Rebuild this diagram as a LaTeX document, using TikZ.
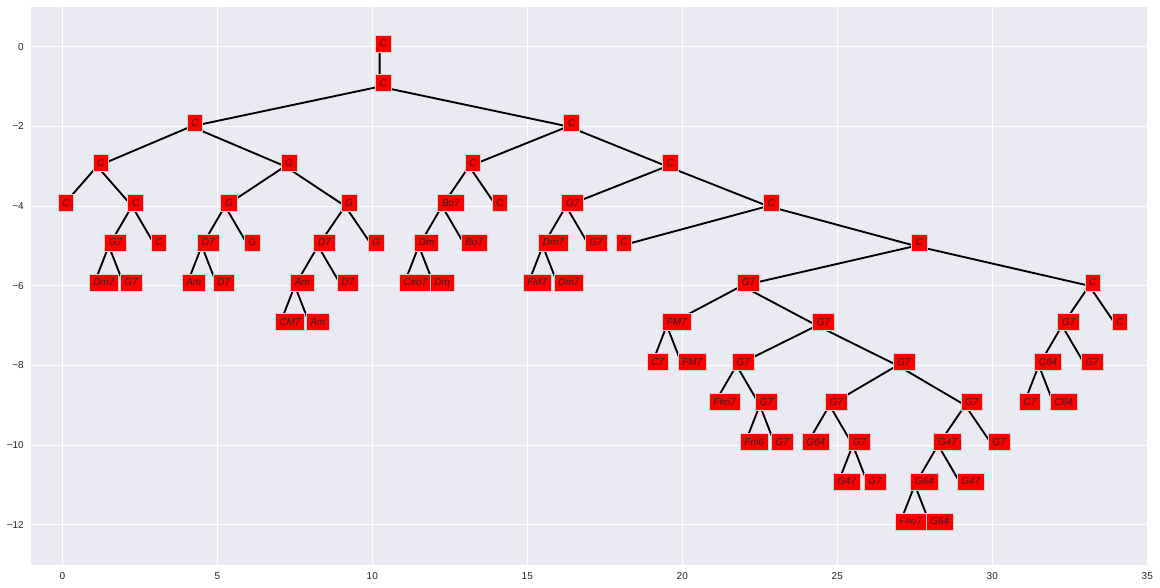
\documentclass[tikz,border=0pt]{standalone}
\usepackage{fontspec}
\setmainfont{Liberation Sans}
\definecolor{panel}{HTML}{EAEAF2}
\definecolor{ink}{HTML}{262626}
\pgfdeclarelayer{background}
\pgfsetlayers{background,main}

\begin{document}
\begin{tikzpicture}[x=23.25pt, y=29.87pt, font=\fontsize{7.5}{9}\selectfont, text=ink,
  chord/.style={anchor=text, fill=red, draw=black!18, line width=0.5pt, inner xsep=3.2pt, inner ysep=0pt,
    minimum height=12.75pt, text height=5pt, text depth=0pt, font=\fontsize{7.5}{9}\selectfont\itshape},
  tick/.style={inner sep=0pt, text height=5.3pt, text depth=0pt},
  edge/.style={line width=1.4pt, draw=black},
  gridline/.style={draw=white, line width=0.8pt}]
  \useasboundingbox (-2.0097,1.175) rectangle (35.41,-13.588);
  % inner chords
  \node[chord] (root) at (10.2358,0) {C};
  \node[chord] (top) at (10.2358,-1) {C};
  \node[chord] (cL) at (4.1563,-2) {C};
  \node[chord] (cR) at (16.3154,-2) {C};
  \node[chord] (c3a) at (1.125,-3) {C};
  \node[chord] (g3) at (7.1875,-3) {G};
  \node[chord] (c3b) at (13.125,-3) {C};
  \node[chord] (c3c) at (19.5059,-3) {C};
  \node[chord] (c4a) at (2.25,-4) {C};
  \node[chord] (g4a) at (5.25,-4) {G};
  \node[chord] (g4b) at (9.125,-4) {G};
  \node[chord] (bo4) at (12.25,-4) {Bo7};
  \node[chord] (g74) at (16.25,-4) {G7};
  \node[chord] (c4b) at (22.7617,-4) {C};
  \node[chord] (g75) at (1.5,-5) {G7};
  \node[chord] (d75a) at (4.5,-5) {D7};
  \node[chord] (d75b) at (8.25,-5) {D7};
  \node[chord] (dm5) at (11.5,-5) {Dm};
  \node[chord] (dm75) at (15.5,-5) {Dm7};
  \node[chord] (c5) at (27.5234,-5) {C};
  \node[chord] (am6) at (7.5,-6) {Am};
  \node[chord] (g76) at (21.9219,-6) {G7};
  \node[chord] (c6) at (33.125,-6) {C};
  \node[chord] (fm77) at (19.5,-7) {FM7};
  \node[chord] (g77a) at (24.3438,-7) {G7};
  \node[chord] (g77b) at (32.25,-7) {G7};
  \node[chord] (g78a) at (21.75,-8) {G7};
  \node[chord] (g78b) at (26.9375,-8) {G7};
  \node[chord] (c648) at (31.5,-8) {C64};
  \node[chord] (g79a) at (22.5,-9) {G7};
  \node[chord] (g79b) at (24.75,-9) {G7};
  \node[chord] (g79c) at (29.125,-9) {G7};
  \node[chord] (g710) at (25.5,-10) {G7};
  \node[chord] (g4710) at (28.25,-10) {G47};
  \node[chord] (g6411) at (27.5,-11) {G64};
  % leaves
  \node[chord] (lf0) at (0,-4) {C};
  \node[chord] (lf1) at (1,-6) {Dm7};
  \node[chord] (lf2) at (2,-6) {G7};
  \node[chord] (lf3) at (3,-5) {C};
  \node[chord] (lf4) at (4,-6) {Am};
  \node[chord] (lf5) at (5,-6) {D7};
  \node[chord] (lf6) at (6,-5) {G};
  \node[chord] (lf7) at (7,-7) {CM7};
  \node[chord] (lf8) at (8,-7) {Am};
  \node[chord] (lf9) at (9,-6) {D7};
  \node[chord] (lf10) at (10,-5) {G};
  \node[chord] (lf11) at (11,-6) {C\#o7};
  \node[chord] (lf12) at (12,-6) {Dm};
  \node[chord] (lf13) at (13,-5) {Bo7};
  \node[chord] (lf14) at (14,-4) {C};
  \node[chord] (lf15) at (15,-6) {FM7};
  \node[chord] (lf16) at (16,-6) {Dm7};
  \node[chord] (lf17) at (17,-5) {G7};
  \node[chord] (lf18) at (18,-5) {C};
  \node[chord] (lf19) at (19,-8) {C7};
  \node[chord] (lf20) at (20,-8) {FM7};
  \node[chord] (lf21) at (21,-9) {F\#o7};
  \node[chord] (lf22) at (22,-10) {Fm6};
  \node[chord] (lf23) at (23,-10) {G7};
  \node[chord] (lf24) at (24,-10) {G64};
  \node[chord] (lf25) at (25,-11) {G47};
  \node[chord] (lf26) at (26,-11) {G7};
  \node[chord] (lf27) at (27,-12) {F\#o7};
  \node[chord] (lf28) at (28,-12) {G64};
  \node[chord] (lf29) at (29,-11) {G47};
  \node[chord] (lf30) at (30,-10) {G7};
  \node[chord] (lf31) at (31,-9) {C7};
  \node[chord] (lf32) at (32,-9) {C64};
  \node[chord] (lf33) at (33,-8) {G7};
  \node[chord] (lf34) at (34,-7) {C};
  % axis ticks
  \foreach \t in {0,5,...,35}
    \node[tick] (xt\t) at (\t,-13.29) {\t};
  \foreach \v/\s in {0/0,-2/−2,-4/−4,-6/−6,-8/−8,-10/−10,-12/−12}
    \node[tick, anchor=east] (yt\v) at (-1.235,\v) {\s};
  \begin{pgfonlayer}{background}
    \fill[panel] (-1,-13) rectangle (35,1);
    \draw[gridline, xstep=5, ystep=2] (-1,-13) grid (35,1);
    \draw[edge] (root.text) -- (top.text) (top.text) -- (cL.text) (top.text) -- (cR.text);
    \draw[edge] (cL.text) -- (c3a.text) (cL.text) -- (g3.text);
    \draw[edge] (c3a.text) -- (lf0.text) (c3a.text) -- (c4a.text);
    \draw[edge] (c4a.text) -- (g75.text) (c4a.text) -- (lf3.text);
    \draw[edge] (g75.text) -- (lf1.text) (g75.text) -- (lf2.text);
    \draw[edge] (g3.text) -- (g4a.text) (g3.text) -- (g4b.text);
    \draw[edge] (g4a.text) -- (d75a.text) (g4a.text) -- (lf6.text);
    \draw[edge] (d75a.text) -- (lf4.text) (d75a.text) -- (lf5.text);
    \draw[edge] (g4b.text) -- (d75b.text) (g4b.text) -- (lf10.text);
    \draw[edge] (d75b.text) -- (am6.text) (d75b.text) -- (lf9.text);
    \draw[edge] (am6.text) -- (lf7.text) (am6.text) -- (lf8.text);
    \draw[edge] (cR.text) -- (c3b.text) (cR.text) -- (c3c.text);
    \draw[edge] (c3b.text) -- (bo4.text) (c3b.text) -- (lf14.text);
    \draw[edge] (bo4.text) -- (dm5.text) (bo4.text) -- (lf13.text);
    \draw[edge] (dm5.text) -- (lf11.text) (dm5.text) -- (lf12.text);
    \draw[edge] (c3c.text) -- (g74.text) (c3c.text) -- (c4b.text);
    \draw[edge] (g74.text) -- (dm75.text) (g74.text) -- (lf17.text);
    \draw[edge] (dm75.text) -- (lf15.text) (dm75.text) -- (lf16.text);
    \draw[edge] (c4b.text) -- (lf18.text) (c4b.text) -- (c5.text);
    \draw[edge] (c5.text) -- (g76.text) (c5.text) -- (c6.text);
    \draw[edge] (g76.text) -- (fm77.text) (g76.text) -- (g77a.text);
    \draw[edge] (fm77.text) -- (lf19.text) (fm77.text) -- (lf20.text);
    \draw[edge] (g77a.text) -- (g78a.text) (g77a.text) -- (g78b.text);
    \draw[edge] (g78a.text) -- (lf21.text) (g78a.text) -- (g79a.text);
    \draw[edge] (g79a.text) -- (lf22.text) (g79a.text) -- (lf23.text);
    \draw[edge] (g78b.text) -- (g79b.text) (g78b.text) -- (g79c.text);
    \draw[edge] (g79b.text) -- (lf24.text) (g79b.text) -- (g710.text);
    \draw[edge] (g710.text) -- (lf25.text) (g710.text) -- (lf26.text);
    \draw[edge] (g79c.text) -- (g4710.text) (g79c.text) -- (lf30.text);
    \draw[edge] (g4710.text) -- (g6411.text) (g4710.text) -- (lf29.text);
    \draw[edge] (g6411.text) -- (lf27.text) (g6411.text) -- (lf28.text);
    \draw[edge] (c6.text) -- (g77b.text) (c6.text) -- (lf34.text);
    \draw[edge] (g77b.text) -- (c648.text) (g77b.text) -- (lf33.text);
    \draw[edge] (c648.text) -- (lf31.text) (c648.text) -- (lf32.text);
  \end{pgfonlayer}
\end{tikzpicture}
\end{document}
